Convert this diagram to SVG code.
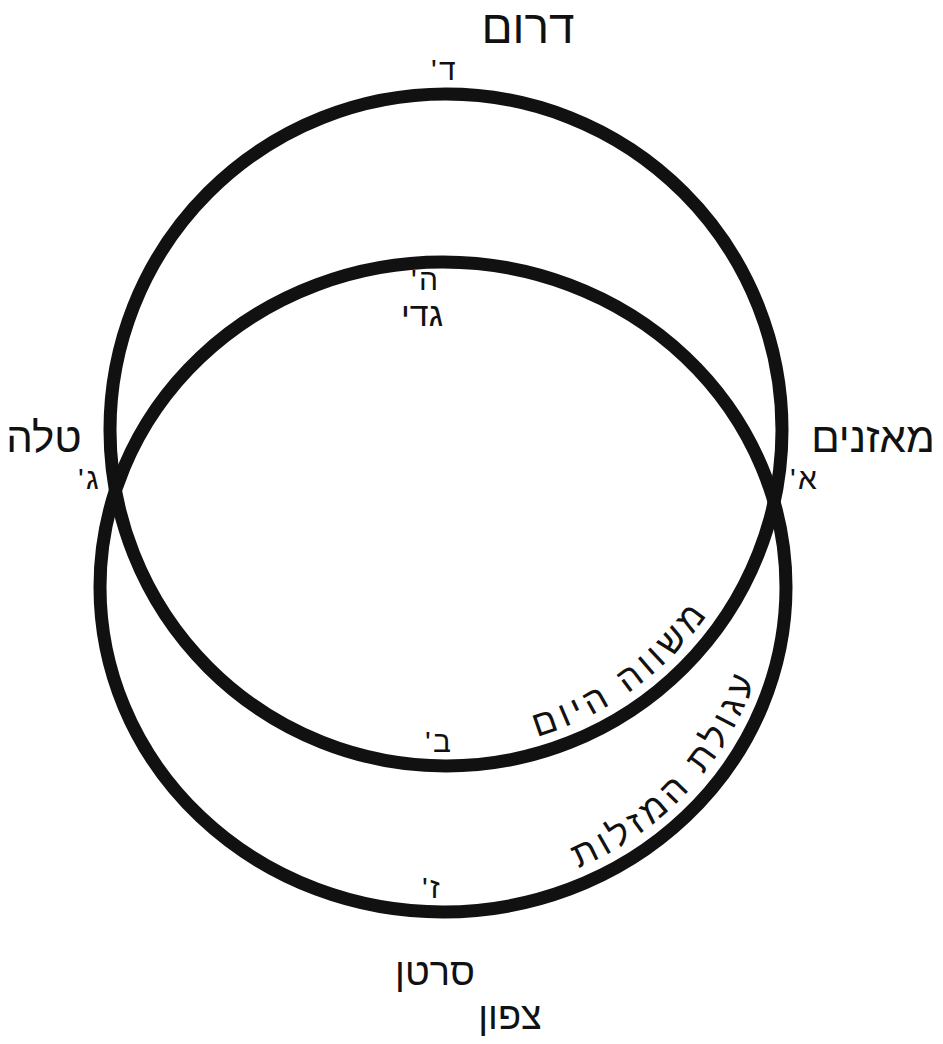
<svg xmlns="http://www.w3.org/2000/svg" width="943" height="1044" viewBox="0 0 943 1044">
<style>
text{font-family:"Liberation Sans","DejaVu Sans",sans-serif;fill:#111;}
.big{font-size:42px;text-anchor:middle;}
.sm{font-size:30px;}
.arc{font-size:36px;letter-spacing:5px;}
.ring{fill:none;stroke:#111;stroke-width:13;}
</style>
<defs>
<path id="p1" d="M 446 750 A 320 320 0 0 0 766 430"/>
<path id="p2" d="M 443 896 A 327 309 0 0 0 770 587"/>
</defs>
<rect width="943" height="1044" fill="#fff"/>
<g id="connectors">
<circle id="equator" class="ring" cx="446" cy="430" r="336"/>
<ellipse id="ecliptic" class="ring" cx="443" cy="587" rx="343" ry="325"/>
</g>
<g id="south"><text class="big" x="528" y="43" style="font-size:46px">דרום</text></g>
<g id="d"><text class="sm" y="80"><tspan x="439">ד</tspan><tspan x="431">'</tspan></text></g>
<g id="h"><text class="sm" y="290"><tspan x="419">ה</tspan><tspan x="411">'</tspan></text><text class="big" x="422" y="326" style="font-size:34px">גדי</text></g>
<g id="g"><text class="big" x="44" y="452">טלה</text><text class="sm" y="489"><tspan x="86">ג</tspan><tspan x="78">'</tspan></text></g>
<g id="a"><text class="big" x="873" y="452">מאזנים</text><text class="sm" y="489"><tspan x="798">א</tspan><tspan x="790">'</tspan></text></g>
<g id="b"><text class="sm" y="752"><tspan x="433">ב</tspan><tspan x="425">'</tspan></text></g>
<g id="z"><text class="sm" y="898"><tspan x="430">ז</tspan><tspan x="422">'</tspan></text><text class="big" x="435" y="985" style="font-size:38px">סרטן</text></g>
<g id="north"><text class="big" x="510" y="1029" style="font-size:38px">צפון</text></g>
<g id="eqlabel"><text class="arc"><textPath href="#p1" startOffset="40%" text-anchor="middle">משווה היום</textPath></text></g>
<g id="eclabel"><text class="arc"><textPath href="#p2" startOffset="55%" text-anchor="middle">עגולת המזלות</textPath></text></g>
</svg>
